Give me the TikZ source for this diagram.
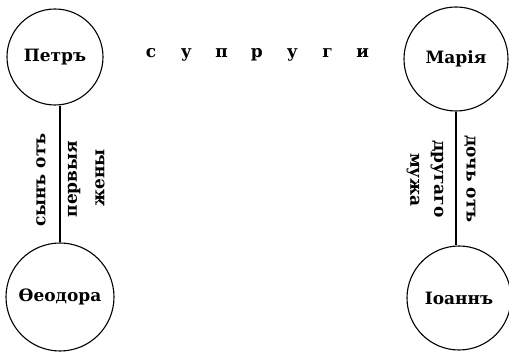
\documentclass[tikz,border=0pt]{standalone}
\usepackage{fontspec}
\setmainfont{DejaVu Serif}
\usetikzlibrary{positioning}

\begin{document}
\begin{tikzpicture}[x=1pt,y=1pt,
    person/.style={draw,circle,line width=1.1pt,inner sep=0pt,font=\bfseries\fontsize{17}{19}\selectfont},
    note/.style={font=\bfseries\fontsize{17}{19}\selectfont,inner sep=0pt}]
    \useasboundingbox (0,0) rectangle (509,353);
    \node[person,minimum size=96] (petr) at (55,296) {Петръ};
    \node[person,minimum size=104] (maria) at (456,294) {Марія};
    \node[person,minimum size=108] (theo) at (60,56) {Ѳеодора};
    \node[person,minimum size=104] (ioann) at (459,55) {Іоаннъ};

    \foreach \x/\l in {0/с,1/у,2/п,3/р,4/у,5/г,6/и} {
        \node[note,anchor=base] at (151+35.3*\x,295) {\l};
    }

    \draw[line width=1.1pt] (theo.north) -- (theo.north |- petr.south);
    \draw[line width=1.1pt] (maria.south) -- (maria.south |- ioann.north);

    \node[note,rotate=90] (sonA) at (41,173) {сынъ отъ};
    \node[note,rotate=90] (sonB) at (74,174) {первыя};
    \node[note,rotate=90] (sonC) at (100,175) {жены};
    \node[note,rotate=-90] (daughterA) at (470,174) {дочь отъ};
    \node[note,rotate=-90] (daughterB) at (437,174) {другаго};
    \node[note,rotate=-90] (daughterC) at (413,173) {мужа};
\end{tikzpicture}
\end{document}
